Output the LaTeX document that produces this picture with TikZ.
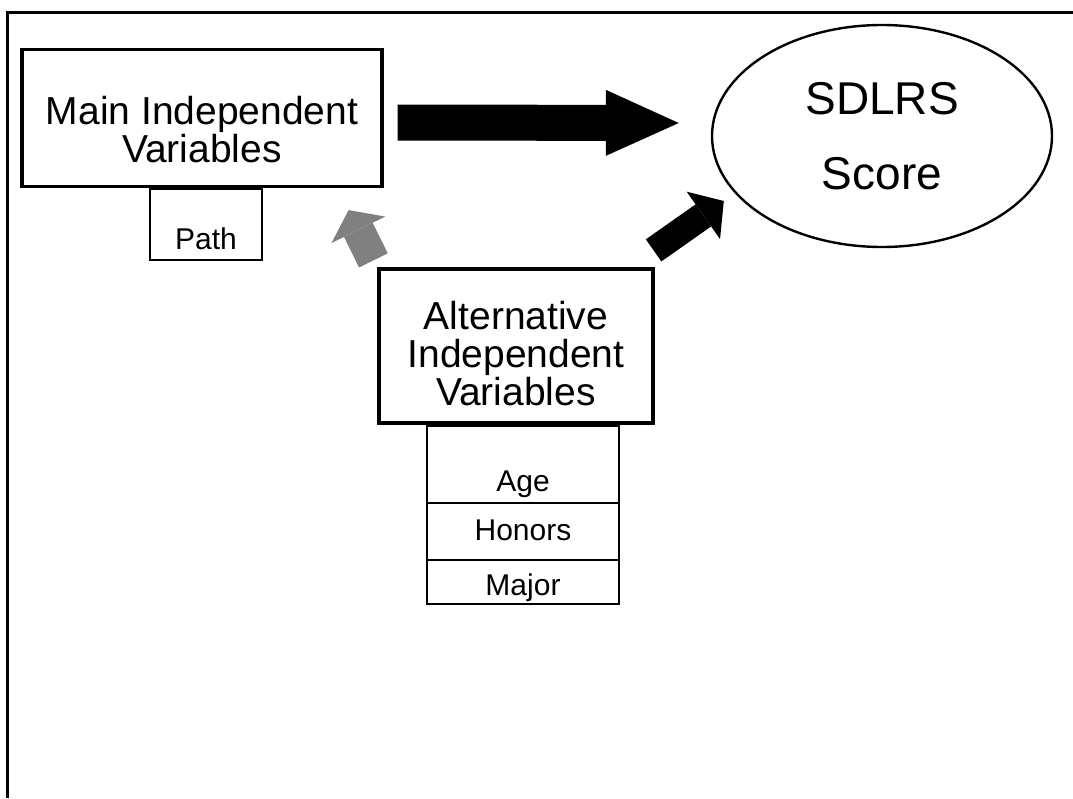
\documentclass[tikz,border=0pt]{standalone}
\usepackage{fontspec}
\setmainfont{Liberation Sans}
\usetikzlibrary{matrix,arrows.meta,positioning,calc,shapes.geometric}

\begin{document}
\begin{tikzpicture}[x=1pt,y=-1pt,
  bigfont/.style={font=\fontsize{39}{38}\selectfont},
  smallfont/.style={font=\fontsize{30}{30}\selectfont},
  box/.style={draw, line width=3.2pt, align=center, inner sep=0pt, bigfont},
  tab/.style={draw, line width=2.2pt, inner sep=0pt, smallfont},
  list/.style={matrix of nodes, inner sep=0pt, row sep=-2.2pt,
    nodes={tab, minimum width=192pt},
    row 1/.style={nodes={text height=66pt, text depth=11pt}},
    row 2/.style={nodes={text height=38pt, text depth=19pt}},
    row 3/.style={nodes={text height=36pt, text depth=8pt}},
  },
  fatarrow/.style={line width=36pt, -{Triangle[length=73pt, width=66pt, line width=0pt]}},
  grayarrow/.style={black!50, line width=32pt, -{Triangle[length=22pt, width=60pt, line width=0pt]}},
  slantarrow/.style={line width=27pt, -{Triangle[length=25pt, width=58pt, line width=0pt]}},
]
\useasboundingbox (0,0) rectangle (1073,798);
\draw[line width=3pt] (7,798) |- (1073,12);

\node[box, minimum width=360pt, minimum height=137pt, text height=89pt, text depth=0pt] (main) at (202,118) {Main Independent\\Variables};
\node[tab, minimum width=112pt, text height=60pt, text depth=11pt, below=0pt of main, xshift=4pt] (path) {Path};

\node[draw, ellipse, line width=2.4pt, minimum width=340pt, minimum height=222pt, inner sep=0pt, align=center, font=\fontsize{46}{75}\selectfont] (score) at (882,136) {SDLRS\\Score};

\node[box, minimum width=274pt, minimum height=154pt, text height=118pt, text depth=0pt] (alt) at (516,346) {Alternative\\Independent\\Variables};
\matrix[list, below=0pt of alt, xshift=7pt] (altlist) {
Age \\
Honors \\
Major \\
};

\draw[fatarrow] ($(main.east)+(14,4.5)$) -- ($(score.west)+(-32,-13)$);
\draw[grayarrow] ($(alt.north west)+(-4,-7)$) -- ($(main.south east)+(-35,22)$);
\draw[slantarrow] ($(alt.north east)+(-1,-17)$) -- ($(score.west)+(13,65)$);

\end{tikzpicture}
\end{document}
